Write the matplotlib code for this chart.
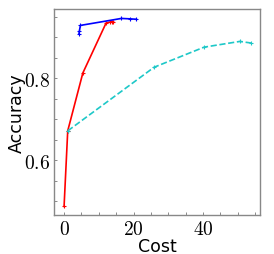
import matplotlib
matplotlib.use("Agg")
import matplotlib.pyplot as plt
from matplotlib.ticker import MultipleLocator

plt.rcParams['mathtext.fontset'] = 'cm'

# red curve
red_cost = [0.0, 1.05, 5.4, 12.1, 13.2, 13.7, 14.2]
red_acc = [0.488, 0.672, 0.813, 0.935, 0.937, 0.938, 0.938]

# blue curve
blue_cost = [4.3, 4.4, 4.7, 16.5, 19.0, 20.8]
blue_acc = [0.909, 0.915, 0.929, 0.946, 0.945, 0.944]

# cyan dashed curve
cyan_cost = [1.05, 25.9, 40.3, 50.6, 53.9]
cyan_acc = [0.672, 0.827, 0.876, 0.890, 0.886]

xticks = [0, 20, 40]
yticks = [0.6, 0.8]

fig = plt.figure(figsize=(2.74, 2.55), dpi=100)
ax = fig.add_axes([54 / 274, 1 - 216 / 255, 206 / 274, 206 / 255])

ax.plot(red_cost, red_acc, color='red', lw=1.2, marker='+', ms=3.5, mew=0.8)
ax.plot(blue_cost, blue_acc, color='blue', lw=1.2, marker='+', ms=3.5, mew=0.8)
ax.plot(cyan_cost, cyan_acc, color='#1ec8c8', lw=1.2, ls='--', marker='+', ms=3.5, mew=0.8)

ax.set_xlim(-2.9, 56.4)
ax.set_ylim(0.467, 0.969)
ax.set_xticks(xticks)
ax.set_xticklabels([f'${t}$' for t in xticks])
ax.set_yticks(yticks)
ax.set_yticklabels([f'${t}$' for t in yticks])
ax.xaxis.set_minor_locator(MultipleLocator(5))
ax.yaxis.set_minor_locator(MultipleLocator(0.05))
ax.tick_params(which='both', direction='in', length=2.5, width=0.6,
               color='#777777', labelsize=14, pad=3)

for s in ax.spines.values():
    s.set_color('#888888')
    s.set_linewidth(1.0)

ax.set_xlabel('Cost', fontsize=12.5)
ax.set_ylabel('Accuracy', fontsize=12.5)
ax.xaxis.set_label_coords(0.5, -0.105, transform=ax.transAxes)
ax.yaxis.set_label_coords(-0.135, 0.5, transform=ax.transAxes)
ax.xaxis.label.set_va('top')

fig.savefig('out.png', dpi=100)
